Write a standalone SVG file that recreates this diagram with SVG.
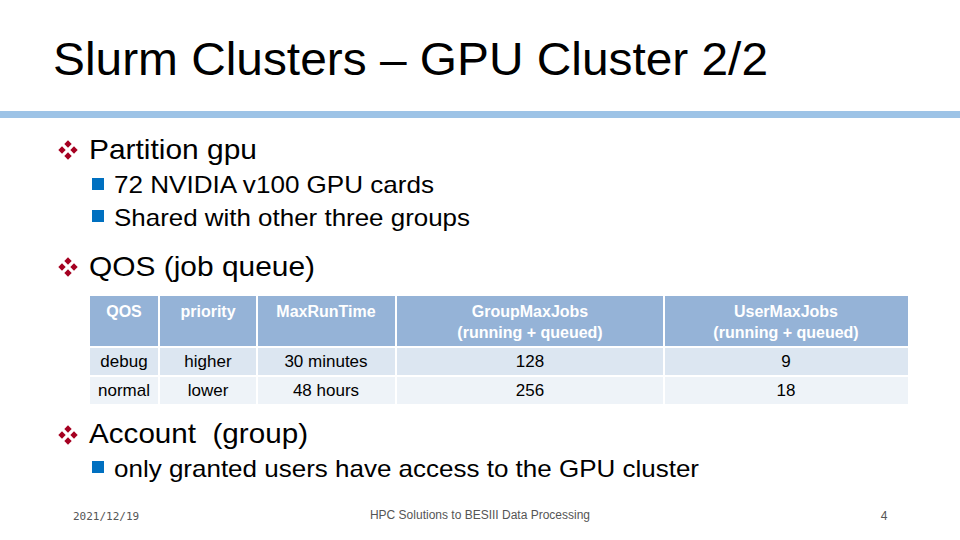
<svg xmlns="http://www.w3.org/2000/svg" width="960" height="540" viewBox="0 0 960 540">
<defs>
<style>
text{font-family:"Liberation Sans",Arial,sans-serif;}
.l1{font-size:28px;fill:#000;}
.l2{font-size:24px;fill:#000;}
.th{font-size:16px;fill:#fff;font-weight:bold;text-anchor:middle;}
.td{font-size:17px;fill:#000;text-anchor:middle;}
.ft{font-size:12px;fill:#555;}
.sq{fill:#0070c0;}
.dm{fill:#a50021;}
</style>
<g id="dia"><rect x="-2.6" y="-2.6" width="5.2" height="5.2" transform="rotate(45)"/></g>
</defs>
<rect width="960" height="540" fill="#fff"/>
<text x="53" y="75" style="font-size:46px" fill="#000" textLength="715" lengthAdjust="spacingAndGlyphs">Slurm Clusters – GPU Cluster 2/2</text>
<rect x="0" y="111" width="960" height="7" fill="#9dc3e6"/>
<g id="b1" class="dm">
<use href="#dia" x="68" y="144"/><use href="#dia" x="62" y="150"/><use href="#dia" x="74" y="150"/><use href="#dia" x="68" y="156"/>
</g>
<text x="89" y="159" class="l1" textLength="168" lengthAdjust="spacingAndGlyphs">Partition gpu</text>
<rect x="92" y="178" width="12" height="12" class="sq"/>
<text x="114" y="193" class="l2" textLength="320" lengthAdjust="spacingAndGlyphs">72 NVIDIA v100 GPU cards</text>
<rect x="92" y="210" width="12" height="12" class="sq"/>
<text x="114" y="226" class="l2" textLength="356" lengthAdjust="spacingAndGlyphs">Shared with other three groups</text>
<g id="b2" class="dm">
<use href="#dia" x="68" y="261"/><use href="#dia" x="62" y="267"/><use href="#dia" x="74" y="267"/><use href="#dia" x="68" y="273"/>
</g>
<text x="89" y="276" class="l1" textLength="226" lengthAdjust="spacingAndGlyphs">QOS (job queue)</text>
<g id="table">
<g fill="#95b3d7">
<rect x="90" y="296" width="68" height="50"/><rect x="160" y="296" width="96" height="50"/><rect x="258" y="296" width="137" height="50"/><rect x="397" y="296" width="266" height="50"/><rect x="665" y="296" width="243" height="50"/>
</g>
<g fill="#dce6f1">
<rect x="90" y="348" width="68" height="27"/><rect x="160" y="348" width="96" height="27"/><rect x="258" y="348" width="137" height="27"/><rect x="397" y="348" width="266" height="27"/><rect x="665" y="348" width="243" height="27"/>
</g>
<g fill="#eef3f8">
<rect x="90" y="377" width="68" height="27"/><rect x="160" y="377" width="96" height="27"/><rect x="258" y="377" width="137" height="27"/><rect x="397" y="377" width="266" height="27"/><rect x="665" y="377" width="243" height="27"/>
</g>
<text x="124" y="317" class="th">QOS</text>
<text x="208" y="317" class="th">priority</text>
<text x="326" y="317" class="th">MaxRunTime</text>
<text x="530" y="317" class="th">GroupMaxJobs</text>
<text x="530" y="338" class="th">(running + queued)</text>
<text x="786" y="317" class="th">UserMaxJobs</text>
<text x="786" y="338" class="th">(running + queued)</text>
<text x="124" y="367" class="td">debug</text>
<text x="208" y="367" class="td">higher</text>
<text x="326" y="367" class="td">30 minutes</text>
<text x="530" y="367" class="td">128</text>
<text x="786" y="367" class="td">9</text>
<text x="124" y="396" class="td">normal</text>
<text x="208" y="396" class="td">lower</text>
<text x="326" y="396" class="td">48 hours</text>
<text x="530" y="396" class="td">256</text>
<text x="786" y="396" class="td">18</text>
</g>
<g id="b3" class="dm">
<use href="#dia" x="68" y="429"/><use href="#dia" x="62" y="435"/><use href="#dia" x="74" y="435"/><use href="#dia" x="68" y="441"/>
</g>
<text x="89" y="443" class="l1" xml:space="preserve" textLength="219" lengthAdjust="spacingAndGlyphs">Account  (group)</text>
<rect x="92" y="461" width="12" height="12" class="sq"/>
<text x="114" y="477" class="l2" textLength="585" lengthAdjust="spacingAndGlyphs">only granted users have access to the GPU cluster</text>
<text x="73" y="520" class="ft" style="font-family:'DejaVu Sans Mono',monospace;font-size:11px">2021/12/19</text>
<text x="480" y="519" class="ft" text-anchor="middle">HPC Solutions to BESIII Data Processing</text>
<text x="884" y="520" class="ft" text-anchor="middle">4</text>
</svg>
